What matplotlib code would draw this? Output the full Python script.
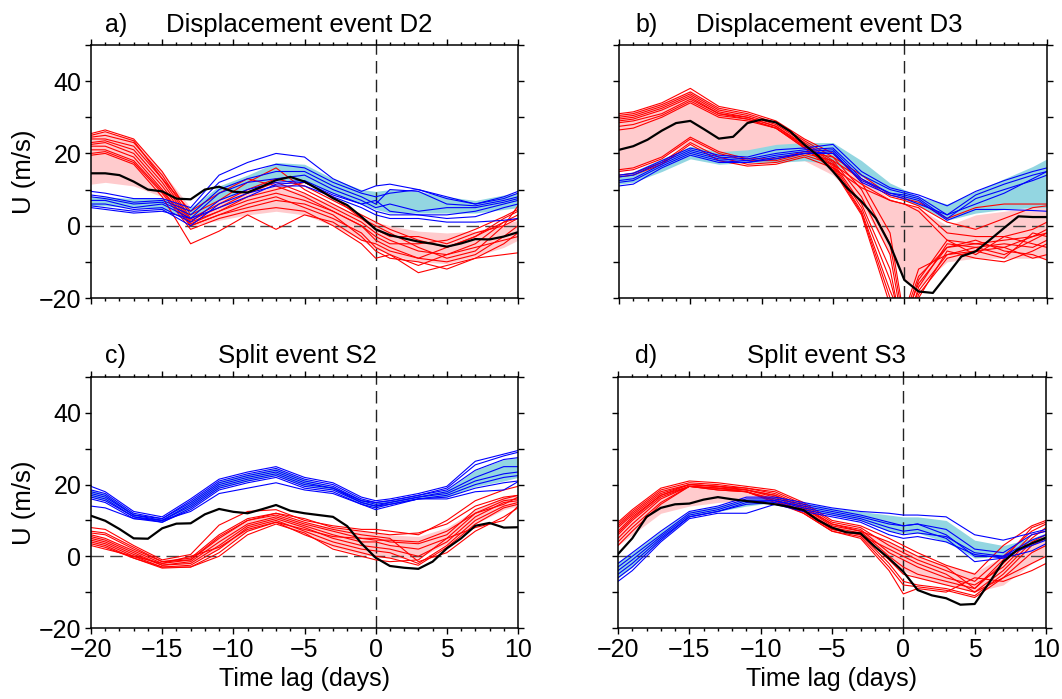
import matplotlib
matplotlib.use("Agg")
import matplotlib.pyplot as plt
from matplotlib.ticker import MultipleLocator, FuncFormatter

plt.rcParams['font.family'] = ['Liberation Sans', 'DejaVu Sans']

# ---------------- data ----------------
lag_days = list(range(-20, 11))  # daily lags for observed (black) curves
lag_grid = [-20, -19, -17, -15, -13, -11, -9, -7, -5, -3, -1, 0, 1, 3, 5, 7, 9, 10]

# ----- panel a: Displacement event D2 -----
obs_a = [14.5, 14.5, 14, 12.2, 10, 9.5, 7.5, 7.3, 10, 10.8, 9.4, 9.2, 10.8, 12.6, 13.5, 12.2,
         10, 7.6, 5.7, 2.5, -1, -2.6, -3.5, -4.4, -5, -5.8, -4.9, -3.7, -3.8, -3, -1.8]
red_a = [
    [25.5, 26.5, 24, 15, 3, 7, 12, 16, 10, 6, 2, 0, -2, -6, -9, -7, 0, 5.5],
    [24.5, 25, 23, 14, 2, 6, 10, 13, 11, 7, 3, 1, -1, -4, -6, -3, 2, 4],
    [24, 24, 22, 13, 1.5, 5, 9, 12, 9, 5, 1, -2, -4, -7, -8, -5, 1, 3],
    [23, 23.5, 21, 12, 1, 4, 8, 10, 12, 8, 2, -1, -3, -3, -5, -2, 0, 2],
    [22.5, 23, 20, 11, 0.5, 4, 7, 9, 7, 4, 0, -4, -6, -9, -10, -8, -3, 0],
    [22, 22, 19, 10, 0, 3, 6, 8, 5, 2, -2, -6, -8, -13, -11, -9, -5, -2],
    [21, 21, 18, 9.5, 0, 3, 5, 7, 6, 3, -3, -7, -9, -10, -12, -9, -8, -7.5],
    [20, 20.5, 17.5, 9, -1, 2, 4, 5, 4, 0, -5, -9, -8, -11, -8, -6, -4, -3],
    [19.5, 20, 17, 8, -5, -1.5, 3, -1, 3, 1, -4, -5, -7, -9, -6, -3, 1, 2],
    [25, 26, 23.5, 13, 4, 9, 13, 11, 8, 4, 0, -3, -5, -5, -4, -1, 2.5, 4.5],
]
blue_a = [
    [9.5, 9, 7.5, 7.5, 5, 14, 17.5, 20, 19, 13, 9.5, 11, 11.5, 10, 8, 6, 8, 9.5],
    [8.5, 8, 6.5, 7, 4, 12, 15, 17, 16, 12, 9, 8, 9, 10, 7.5, 6, 7.5, 9],
    [8, 7.5, 6, 6.5, 3, 10, 13, 15, 15, 11, 8, 6, 10, 9.5, 6, 5.5, 7, 8],
    [7, 7, 5, 6, 2, 9, 12, 13, 14, 10, 7, 5, 6, 4, 5, 5, 6.5, 7.5],
    [6, 6, 4.5, 5, 1, 7, 10, 12, 12.5, 9, 6, 4, 3, 3, 3, 4, 6, 7],
    [5.5, 5, 4, 4.5, 0, 6, 9, 11, 11, 8, 5, 3, 2, 2, 1, 1, 1.5, 2],
    [5, 4.5, 3.5, 4, 2, 5, 8, 11.5, 12, 8.5, 6, 7, 4, 3, 2, 2.5, 5, 6],
]
pink_hi_a = [25.5, 26, 24, 15, 5, 7, 10, 11, 9, 6, 2.5, 1, 0, -1.5, -2, -1.5, 0.5, 1.5]
pink_lo_a = [11.5, 12, 11, 8, 0, 1.5, 3, 4, 3, 0, -4, -6.5, -8, -10, -10.5, -8.5, -6, -4]
cyan_hi_a = [8, 8, 7.5, 7.5, 5, 11, 14, 17.5, 17, 13, 10, 9.5, 10, 9.5, 8, 7, 8.5, 9]
cyan_lo_a = [5.5, 5.5, 5, 4.5, 2, 7, 10, 12.5, 12, 9, 6, 4.5, 3.5, 3.5, 3.5, 3.5, 4.5, 5]

# ----- panel b: Displacement event D3 -----
obs_b = [21, 22, 23.8, 26.3, 28.4, 29, 26.6, 24.1, 24.6, 28.4, 29.4, 28.6, 26.1, 22.4, 19.2, 15,
         10.4, 6.7, 2.1, -5.3, -15, -18.2, -18.6, -13.6, -8.5, -7.1, -3.9, -0.6, 2.6, 2.4, 2.4]
red_b = [
    [31, 31.5, 34, 38, 33, 31.5, 29, 24, 20, 12, -2, -26, -16, -6, -5, -4, -3, -1],
    [30.5, 31, 33.5, 37, 32.5, 31, 28.5, 23.5, 19, 10, -5, -28, -18, -8, -6, -5, -6, -4],
    [30, 30.5, 33, 36.5, 32, 30.5, 28, 23, 18, 8, -8, -30, -20, -7, -9, -10, -7, -5],
    [29.5, 30, 32.5, 36, 31.5, 30, 27.5, 22.5, 17.5, 6, -12, -32, -19, -9, -7, -6, -9, -8],
    [29, 29.5, 32, 35.5, 31, 30, 27.5, 22, 17, 5, -15, -30, -17, -5, -6, -8, -4, -2],
    [28.5, 29, 31, 35, 31, 29.5, 27, 22, 16.5, 4, -18, -27, -15, -4, -8, -3, -5, -6],
    [27.5, 28, 30.5, 34.5, 30.5, 29.5, 27, 21.5, 16, 3.5, -20, -25, -14, -6, -4, -7, -8, -9.5],
    [26.5, 27, 30, 34, 30, 29, 27, 21.5, 15.5, 3, -22, -24, -12, -8, -7, -9, -2, -3],
    [15.5, 16, 19, 24.5, 20.5, 18.5, 18.5, 20.5, 19, 14, 8.5, 7.5, 6.5, 2, 5, 6, 6, 6],
    [15, 15.5, 18.5, 24, 20, 18, 18, 20, 18, 13, 8, 7, 5.5, 1, -1, 2, 5, 5.5],
    [14, 14.5, 17.5, 23, 19, 17, 17.5, 19.5, 17, 11.5, 7, 6, 5, -2, -3, -3, -1, 1],
    [13.5, 14, 17, 22.5, 18, 16.5, 17, 19, 16, 10.5, 7, 6, 4, -4, -5, -6, -3, -2],
]
blue_b = [
    [14, 14.5, 18, 21.5, 19.5, 19, 21, 21.5, 22.5, 15, 10.5, 9.5, 8.5, 5.5, 9.5, 12.5, 15, 16],
    [13.5, 14, 17.5, 21, 19, 18.5, 20, 21, 21.5, 14, 10, 9, 8, 3, 8.5, 11.5, 14, 15],
    [12.5, 13, 17, 20.5, 18.5, 18, 19.5, 20.5, 21, 13, 9, 8.5, 7.5, 2, 7.5, 10, 12.5, 14],
    [12, 12.5, 16.5, 20, 18, 17.5, 19, 20, 20, 12.5, 9, 8, 7, 1.5, 4.5, 4.5, 4.2, 4],
    [11, 11.5, 16, 19.5, 17.5, 17.5, 18.5, 20, 20.5, 12, 8.5, 7.5, 6, 3, 6, 9, 13, 15],
]
pink_hi_b = [31, 31.5, 34, 37.5, 32.5, 31, 28.5, 24, 20, 13, 7.5, 6, 5, 0, 3, 4, 5, 5]
pink_lo_b = [15, 16, 19, 23, 20, 18, 18, 18, 14, 6, -8, -15, -17, -10, -9, -9, -9, -9]
cyan_hi_b = [14, 15, 18.5, 22, 20.5, 21, 22.5, 23, 23, 18, 11.8, 10, 8, 6, 9.5, 13, 16.4, 18.5]
cyan_lo_b = [11.5, 12, 15, 18.5, 17, 17.5, 17.5, 18, 17, 13.5, 9, 7, 5.5, 1.5, 3.5, 4.5, 5, 5]

# ----- panel c: Split event S2 -----
obs_c = [11.3, 9.9, 7.6, 5, 4.9, 7.8, 9.1, 9.2, 11.7, 13.2, 12.4, 12, 13.1, 14.3, 12.7, 12,
         11.5, 11, 8.4, 3.6, -0.4, -2.7, -3.2, -3.5, -1.5, 2.2, 5, 8.5, 9.3, 8, 8.1]
red_c = [
    [8, 7.5, 3, -1, 0.5, 8.7, 12.5, 13, 10, 8.5, 7.5, 7.5, 7, 6, 10, 15.5, 18.5, 19.5],
    [6.5, 6, 2, -1.5, -0.5, 6, 10.5, 12, 10.5, 8, 7, 6.5, 6, 6.5, 9, 14, 16.5, 17],
    [6, 5, 1.5, -2, -1, 5, 10, 11.5, 9, 7, 5, 5, 4, 3.5, 6, 13, 16, 17],
    [5.5, 4.5, 1, -2.5, -1.5, 4, 9, 11, 8.5, 6, 4, 4, 3, 2, 5, 12, 15.5, 16],
    [5, 4, 0.5, -2.5, -2, 3, 8.5, 10.5, 8, 5, 3, 2.5, 2, 0, 4, 11, 15, 15.5],
    [4.5, 3.5, 0, -3, -2.5, 2, 8, 10, 7, 4, 2, 1.5, 1, -2, 3, 10, 14, 15],
    [4, 3, -0.5, -3, -3, 1, 7, 9.5, 6, 3, 1, 0, -0.5, -2.5, 2.5, 9, 13.5, 14.5],
    [3.5, 2.5, -0.5, -3.3, -3, 0, 6, 9, 6.5, 2, 0, -1, -1.5, -1, 5, 8, 10, 14],
    [3, 2, 0, -2, 0, 2.5, 7.5, 9.5, 7.5, 5.5, 5, 4.5, 4.5, 4, 7, 12, 14.5, 16.5],
    [7, 6.5, 2.5, -1.5, -1, 5.5, 10, 12, 9.5, 7.5, 6, 5.5, 5, -1.5, 1, 7, 11, 13.5],
]
blue_c = [
    [19.5, 18, 12.5, 11, 16, 21.5, 23.5, 25, 22, 20.5, 16.5, 15.5, 16, 17.5, 19.5, 26.5, 28.5, 29.5],
    [18.5, 17.5, 12, 10.5, 15.5, 21, 23, 24.5, 21.5, 20, 16, 15, 15.5, 17, 19, 25.5, 28, 29],
    [18, 17, 11.5, 10.5, 15, 20.5, 22.5, 24, 21, 19.5, 15.5, 15, 15.5, 17, 18.5, 24, 27, 27.5],
    [17.5, 16.5, 11.5, 10, 14.5, 20, 22, 23.5, 20.5, 19, 15.5, 14.5, 15, 16.5, 18, 22, 25, 25],
    [17, 16, 11, 10, 14, 19.5, 21.5, 23, 20, 19, 15, 14, 15, 16.5, 17.5, 21, 23, 23.5],
    [16.5, 15.5, 11, 9.5, 13.5, 19, 21, 22.5, 19.5, 18.5, 15, 14, 14.5, 16, 17, 20, 22, 22.5],
    [16, 15, 10.5, 9.5, 13, 18.5, 20.5, 22, 19, 18, 14.5, 13.5, 14.5, 16, 16.5, 19, 20.5, 21],
    [14, 13.5, 10.5, 10, 12.5, 17.5, 19, 20.5, 18.5, 17.5, 14.5, 13, 14, 16, 16, 18, 18.5, 20.8],
]
pink_hi_c = [6, 5, 2, -1, 0, 5.5, 10, 11.5, 9.5, 8, 7, 6.5, 6, 5.5, 8, 13, 16.5, 17]
pink_lo_c = [3.5, 2.5, -0.5, -2.5, -2, 2, 7, 9.5, 6.5, 2.5, 0.5, 0, -0.5, -0.5, 3.5, 9, 13, 14]
cyan_hi_c = [18.5, 17.5, 12, 10.5, 15.5, 21, 23, 24.5, 21.5, 19.5, 16, 15, 15.5, 17, 18.5, 24, 27, 27.5]
cyan_lo_c = [16.5, 15.5, 11, 9.5, 13.5, 19, 21, 22.5, 19.5, 18.5, 14.5, 13.5, 14.5, 16, 16.5, 19.5, 21, 22]

# ----- panel d: Split event S3 -----
obs_d = [0.6, 5, 11, 13.5, 14.5, 14.7, 15.8, 16.5, 15.9, 15.4, 15, 14.5, 13.8, 12.9, 10.1, 8,
         6.7, 6.4, 2.7, -0.6, -4.3, -9.4, -10.9, -11.7, -13.5, -13.3, -7.5, -1.5, 1.8, 3.6, 5.2]
red_d = [
    [9.5, 13, 19, 21, 20.5, 19.5, 18.5, 15, 10, 8.5, 5, 3, 1, -2.5, -5, 3, 8.5, 10],
    [9, 12.5, 18.5, 20.5, 20, 19, 18, 14.5, 9.5, 8, 3, 1, -1, -4, -7, 0, 7, 9],
    [8.5, 12, 18, 20, 19.5, 19, 17.5, 14, 9, 7.5, 1, -1, -3, -6, -8, -3, 5, 8],
    [8, 11.5, 17.5, 20, 19.5, 18.5, 17, 13.5, 8.5, 7, 0, -3, -5, -7, -9, -2, 6, 7],
    [7, 11, 17, 19.5, 19, 18.5, 16.5, 13, 8, 6.5, -1, -5, -6, -8, -10, -4, 4, 6],
    [6, 10, 16.5, 19.5, 19, 18, 16, 12.5, 7.5, 6, -2, -7, -8, -9, -11, -5, 3, 5],
    [5, 9, 16, 19.5, 19, 18, 15.5, 12, 7, 5.5, -3, -8, -8.5, -9.5, -11.5, -6, 1, 3],
    [4, 8, 15, 19.5, 18.5, 18, 15, 12, 7, 5, -4, -10.5, -9, -10, -6, -7, -4, -2],
    [3, 7, 14.5, 19.5, 18.5, 18, 15.5, 12.5, 7.5, 6, 2, 0, -2, -5, -10, -6, -2, 0],
    [6.5, 10.5, 17, 20, 19.5, 18.5, 17, 13.5, 9, 7, 4, 2, 0, -3, -9, -1, 8, 9.5],
]
blue_d = [
    [-2, 1, 7, 12.5, 14, 16.5, 16.5, 15, 13.5, 12.5, 12, 11.5, 11.5, 11, 6, 4.5, 6.5, 7.5],
    [-3, 0, 6, 12, 13.5, 16, 16, 14.5, 13, 11.5, 9.5, 8.5, 9, 7.5, 2, 1, 6, 7],
    [-4, -1, 5.5, 11.5, 13, 15.5, 15.5, 14, 12.5, 11, 9, 8.5, 9, 6, 0, 0, 4.5, 6],
    [-5, -2, 5, 11, 12.5, 15, 15.5, 13.5, 12, 10.5, 8, 7, 7.5, 5, -1.5, -0.5, 3.5, 5],
    [-6, -3, 4.5, 11, 12.5, 14.5, 15, 13, 11.5, 10, 7, 6, 6.5, 5.5, 1, 0, 3, 4.5],
    [-7, -4, 4, 10.5, 12, 12, 14.5, 12.5, 11, 9.5, 6, 5, 5.5, 4, 0.5, -0.5, 1.5, 3.5],
]
pink_hi_d = [9, 12.5, 18.5, 20.5, 20, 19, 17.5, 14, 9, 7.5, 4, 2, 0, -2.5, -4.5, 0, 5, 6.5]
pink_lo_d = [3, 6, 12, 14, 15, 15.5, 15, 12.5, 7.5, 5.5, 0, -4, -6, -8, -10, -8, -2, 0]
cyan_hi_d = [-1.5, 1, 7, 12.5, 14, 16, 16.5, 15, 13.5, 12.5, 11.5, 11, 11, 10, 4.5, 3, 5, 6.5]
cyan_lo_d = [-6, -3, 4.5, 11, 12.5, 14, 15, 13, 11.5, 10, 7, 6.5, 6.5, 4, -0.5, 0, 3, 4.5]

panel_letters = ['a)', 'b)', 'c)', 'd)']
panel_titles = ['Displacement event D2', 'Displacement event D3', 'Split event S2', 'Split event S3']

# ---------------- styling ----------------
W, H = 1062, 699
fig = plt.figure(figsize=(W / 100, H / 100), dpi=100)

def px_rect(l, t, r, b):
    return [l / W, 1 - b / H, (r - l) / W, (b - t) / H]

rects = [px_rect(91, 45, 518, 298), px_rect(619, 45, 1047, 298),
         px_rect(91, 377, 518, 628), px_rect(618, 377, 1046, 628)]
title_pos = [(105, 166, 32), (635, 696, 32), (105, 218, 363), (635, 747, 363)]

PINK = '#ffcbcd'
CYAN = '#93d6e1'

def fmt_y(v, pos):
    if abs(v) % 20 == 0:
        return f"{int(v)}".replace('-', '\u2212')
    return ''

def fmt_x(v, pos):
    return f"{int(v)}".replace('-', '\u2212')

panels = [
    (obs_a, red_a, blue_a, pink_lo_a, pink_hi_a, cyan_lo_a, cyan_hi_a),
    (obs_b, red_b, blue_b, pink_lo_b, pink_hi_b, cyan_lo_b, cyan_hi_b),
    (obs_c, red_c, blue_c, pink_lo_c, pink_hi_c, cyan_lo_c, cyan_hi_c),
    (obs_d, red_d, blue_d, pink_lo_d, pink_hi_d, cyan_lo_d, cyan_hi_d),
]

for i, (obs, reds, blues, plo, phi, clo, chi) in enumerate(panels):
    ax = fig.add_axes(rects[i])
    ax.fill_between(lag_grid, plo, phi, color=PINK, lw=0, zorder=1)
    ax.fill_between(lag_grid, clo, chi, color=CYAN, lw=0, zorder=1.1)
    ax.axhline(0, color='#444444', lw=1.0, dashes=(9, 4.5), zorder=1.5)
    ax.axvline(0, color='#222222', lw=1.0, dashes=(9, 4.5), zorder=1.5)
    for r in reds:
        ax.plot(lag_grid, r, color='#ff0000', lw=0.8, zorder=2)
    for b in blues:
        ax.plot(lag_grid, b, color='#0000ff', lw=0.8, zorder=2.2)
    ax.plot(lag_days, obs, color='black', lw=1.6, zorder=3)

    ax.set_xlim(-20, 10)
    ax.set_ylim(-20, 50)
    ax.xaxis.set_major_locator(MultipleLocator(5))
    ax.xaxis.set_minor_locator(MultipleLocator(1))
    ax.yaxis.set_major_locator(MultipleLocator(10))
    ax.yaxis.set_major_formatter(FuncFormatter(fmt_y))
    ax.xaxis.set_major_formatter(FuncFormatter(fmt_x))
    ax.tick_params(which='both', direction='out', top=True, right=True,
                   width=1.0, labelsize=18, pad=3)
    ax.tick_params(which='major', length=4)
    ax.tick_params(which='minor', length=2)
    for s in ax.spines.values():
        s.set_linewidth(1.1)
    if i in (1, 3):
        ax.tick_params(labelleft=False)
    if i in (0, 1):
        ax.tick_params(labelbottom=False)
    else:
        ax.set_xlabel('Time lag (days)', fontsize=18, labelpad=4)
    if i in (0, 2):
        ax.set_ylabel('U (m/s)', fontsize=18.5, labelpad=2)

    lx, tx, ty = title_pos[i]
    fig.text(lx / W, 1 - ty / H, panel_letters[i], fontsize=18, ha='left', va='baseline')
    fig.text(tx / W, 1 - ty / H, panel_titles[i], fontsize=18.5, ha='left', va='baseline')

fig.savefig('out.png', dpi=100)
